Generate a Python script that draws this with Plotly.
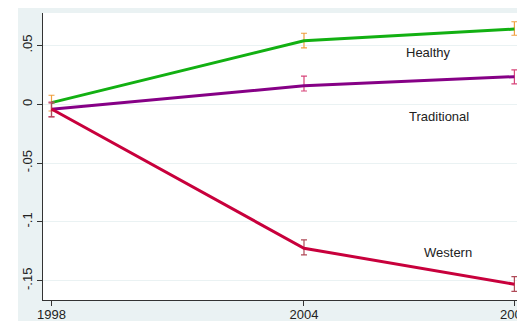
import plotly.graph_objects as go

years = [1998, 2004, 2009]

healthy = [0.0014, 0.0541, 0.0640]
healthy_lo = [-0.0057, 0.0479, 0.0587]
healthy_hi = [0.0077, 0.0604, 0.0702]

traditional = [-0.0043, 0.0158, 0.0235]
traditional_lo = [-0.0105, 0.0113, 0.0173]
traditional_hi = [0.0018, 0.0240, 0.0292]

western = [-0.0040, -0.1224, -0.1530]
western_lo = [-0.0108, -0.1280, -0.1590]
western_hi = [0.0011, -0.1153, -0.1465]

series_names = ["Healthy", "Traditional", "Western"]
line_colors = ["#12B012", "#860086", "#C8003C"]
err_colors = ["#F0A040", "#D8457A", "#B04A58"]

y_tickvals = [0.05, 0, -0.05, -0.1, -0.15]
y_ticktext = [".05", "0", "-.05", "-.1", "-.15"]
x_tickvals = [1998, 2004, 2009]
x_ticktext = ["1998", "2004", "2009"]

label_text = ["Healthy", "Traditional", "Western"]
label_x = [2006.96, 2007.20, 2007.43]
label_y = [0.0437, -0.0105, -0.1263]

FONT = "Arial, Liberation Sans, sans-serif"

fig = go.Figure()
data = [(healthy, healthy_lo, healthy_hi),
        (traditional, traditional_lo, traditional_hi),
        (western, western_lo, western_hi)]
for (vals, lo, hi), name, lc, ec in zip(data, series_names, line_colors, err_colors):
    fig.add_trace(go.Scatter(
        x=years, y=vals, mode="lines", name=name,
        line=dict(color=lc, width=3),
        error_y=dict(type="data", symmetric=False,
                     array=[h - v for h, v in zip(hi, vals)],
                     arrayminus=[v - l for v, l in zip(vals, lo)],
                     color=ec, thickness=1.2, width=3),
        showlegend=False,
    ))

for t, x, y in zip(label_text, label_x, label_y):
    fig.add_annotation(x=x, y=y, text=t, showarrow=False,
                       font=dict(family=FONT, size=13, color="#222222"))

# white strips above/left of the light-blue graph region
fig.add_shape(type="rect", xref="paper", yref="paper",
              x0=-0.2, x1=(18 - 43) / 474, y0=-0.2, y1=1.2,
              fillcolor="white", line=dict(width=0), layer="below")
fig.add_shape(type="rect", xref="paper", yref="paper",
              x0=-0.2, x1=1.2, y0=(300 - 8) / 287, y1=1.2,
              fillcolor="white", line=dict(width=0), layer="below")

fig.update_layout(
    width=517, height=321,
    margin=dict(l=43, r=0, t=13, b=21, pad=0, autoexpand=False),
    paper_bgcolor="#EAF2F3",
    plot_bgcolor="white",
    font=dict(family=FONT, size=13, color="#222222"),
    xaxis=dict(range=[1997.798, 2009.062], tickvals=x_tickvals, ticktext=x_ticktext,
               showgrid=False, zeroline=False, showline=True, linecolor="#333333",
               linewidth=1, ticks="outside", ticklen=5, tickcolor="#333333",
               ticklabeloverflow="allow", automargin=False, ticklabelstandoff=-3,
               tickfont=dict(size=13, family=FONT, color="#222222")),
    yaxis=dict(range=[-0.16641, 0.07764], tickvals=y_tickvals, ticktext=y_ticktext,
               showgrid=True, gridcolor="#EAF2F3", gridwidth=1, zeroline=False,
               showline=True, linecolor="#333333", linewidth=1, automargin=False,
               ticks="outside", ticklen=5, tickcolor="#333333", tickangle=-90,
               tickfont=dict(size=13, family=FONT, color="#222222")),
)

fig.write_html("out.html")
